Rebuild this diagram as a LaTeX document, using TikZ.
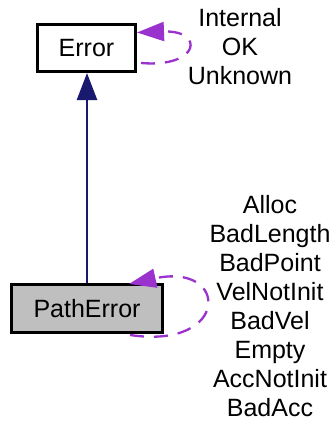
\documentclass[tikz,border=0pt]{standalone}
\usepackage{fontspec}
\setmainfont{Liberation Sans}
\usetikzlibrary{arrows.meta}
\definecolor{navyedge}{HTML}{191970}
\definecolor{orchidedge}{HTML}{9A32CD}
\definecolor{boxgray}{HTML}{BFBFBF}
\begin{document}
\begin{tikzpicture}[x=1pt,y=-1pt,
  classbox/.style={draw=black, line width=3pt, inner sep=0pt, font=\fontsize{25}{29}\selectfont},
  inherit/.style={draw=navyedge, line width=2.5pt, -{Triangle[width=20pt,length=27pt]}},
  selfloop/.style={draw=orchidedge, line width=2.3pt, dash pattern=on 14pt off 10pt, -{Triangle[width=19pt,length=27pt]}},
  lbl/.style={align=center, inner sep=0pt, font=\fontsize{25}{29}\selectfont}]
\useasboundingbox (0,0) rectangle (336,423);
\node[classbox, minimum width=98pt, minimum height=47pt] (err) at (86.5,48) {Error};
\node[classbox, fill=boxgray, minimum width=151pt, minimum height=48pt] (pe) at (87,308.5) {PathError};
\draw[inherit] (pe.north) -- (pe.north |- err.south);
\coordinate (errs) at (141,63);
\coordinate (errt) at (137,32.5);
\draw[selfloop] (errs) .. controls (200,68) and (205,30) .. (errt);
\coordinate (pes) at (130,335);
\coordinate (pet) at (129,284);
\draw[selfloop] (pes) .. controls (230,350) and (230,262) .. (pet);
\node[lbl] (errlbl) at (240,46.5) {Internal\\OK\\Unknown};
\node[lbl] (pelbl) at (270,306.5) {Alloc\\BadLength\\BadPoint\\VelNotInit\\BadVel\\Empty\\AccNotInit\\BadAcc};
\end{tikzpicture}
\end{document}
